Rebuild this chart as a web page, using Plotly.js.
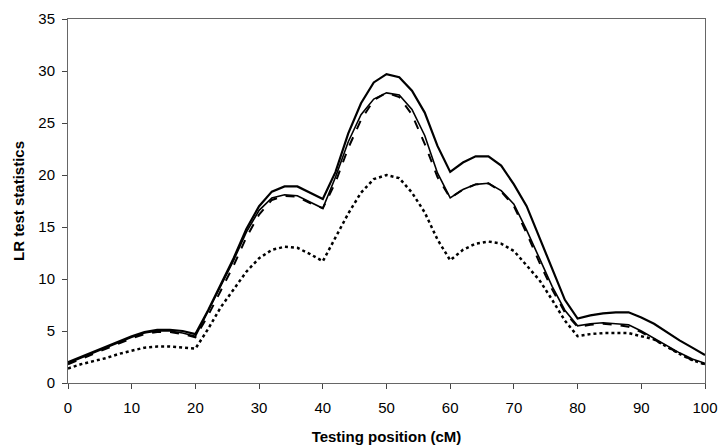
<!DOCTYPE html>
<html>
<head>
<meta charset="utf-8">
<script src="https://cdn.plot.ly/plotly-3.0.1.min.js"></script>
<style>html,body{margin:0;padding:0;background:#fff;}#chart{width:719px;height:446px;}</style>
</head>
<body>
<div id="chart"></div>
<script>
// Testing positions (cM)
const positions = [0,2,4,6,8,10,12,14,16,18,20,22,24,26,28,30,32,34,36,38,40,42,44,46,48,50,52,54,56,58,60,62,64,66,68,70,72,74,76,78,80,82,84,86,88,90,92,94,96,98,100];

// LR test statistics
const seriesSolidTop = [2.0,2.5,3.0,3.5,4.0,4.5,4.9,5.1,5.1,5.0,4.7,7.0,9.5,12.0,14.8,17.0,18.4,18.9,18.9,18.3,17.7,20.3,24.0,26.9,28.9,29.7,29.4,28.1,26.0,22.8,20.3,21.2,21.8,21.8,20.9,19.1,17.0,14.0,11.0,8.0,6.2,6.5,6.7,6.8,6.8,6.3,5.7,4.9,4.1,3.4,2.7];
const seriesSolidLow = [1.9,2.4,2.9,3.4,3.9,4.4,4.8,5.0,5.0,4.8,4.5,6.9,9.3,11.8,14.5,16.6,17.8,18.1,18.0,17.4,16.8,19.8,23.2,25.8,27.3,27.9,27.7,26.3,23.8,20.2,17.8,18.6,19.1,19.2,18.5,17.2,14.7,12.0,9.3,7.0,5.5,5.7,5.8,5.7,5.6,5.0,4.3,3.6,2.9,2.3,1.9];
const seriesDashed = [1.8,2.3,2.8,3.3,3.8,4.3,4.7,4.9,4.9,4.7,4.4,6.5,8.9,11.3,14.0,16.2,17.6,18.0,17.9,17.3,16.8,19.3,22.6,25.3,27.2,27.9,27.5,25.8,23.0,19.8,17.8,18.6,19.1,19.2,18.4,17.0,14.4,11.6,9.0,6.8,5.4,5.6,5.7,5.6,5.4,4.9,4.2,3.5,2.8,2.2,1.8];
const seriesDotted = [1.4,1.8,2.1,2.4,2.8,3.1,3.4,3.5,3.5,3.4,3.3,5.2,7.3,9.0,10.7,12.0,12.8,13.1,13.0,12.4,11.7,14.0,16.3,18.3,19.6,20.0,19.7,18.3,16.4,13.8,11.8,12.8,13.4,13.6,13.4,12.7,11.3,9.9,8.0,6.0,4.5,4.7,4.8,4.8,4.8,4.5,4.2,3.5,2.8,2.2,1.8];

const xTicks = [0,10,20,30,40,50,60,70,80,90,100];
const yTicks = [0,5,10,15,20,25,30,35];

const traces = [
  {x: positions, y: seriesDotted, mode: 'lines', line: {color: '#000', width: 2.5, dash: 'dot'}},
  {x: positions, y: seriesDashed, mode: 'lines', line: {color: '#000', width: 2, dash: 'dash'}},
  {x: positions, y: seriesSolidLow, mode: 'lines', line: {color: '#000', width: 1.6}},
  {x: positions, y: seriesSolidTop, mode: 'lines', line: {color: '#000', width: 2.2}}
];

const tickFont = {family: 'Liberation Sans, Arial, sans-serif', size: 15, color: '#000'};
const titleFont = {family: 'Liberation Sans, Arial, sans-serif', size: 15, color: '#000', weight: 'bold'};

const layout = {
  width: 719, height: 446,
  margin: {l: 68, r: 14, t: 19, b: 63},
  paper_bgcolor: '#fff', plot_bgcolor: '#fff',
  showlegend: false,
  font: tickFont,
  xaxis: {
    range: [0, 100], tickvals: xTicks, ticktext: xTicks.map(String),
    showgrid: false, zeroline: false,
    showline: true, linecolor: '#666', linewidth: 1, mirror: true,
    ticks: 'outside', ticklen: 5, tickcolor: '#444',
    ticklabelstandoff: 6,
    tickfont: tickFont,
    title: {text: 'Testing position (cM)', font: titleFont, standoff: 16}
  },
  yaxis: {
    range: [0, 35], tickvals: yTicks, ticktext: yTicks.map(String),
    showgrid: false, zeroline: false,
    showline: true, linecolor: '#666', linewidth: 1, mirror: true,
    ticks: 'outside', ticklen: 5, tickcolor: '#444',
    ticklabelstandoff: 4,
    tickfont: tickFont,
    title: {text: 'LR test statistics', font: titleFont, standoff: 10}
  }
};

Plotly.newPlot('chart', traces, layout, {staticPlot: true, displayModeBar: false});
</script>
</body>
</html>
